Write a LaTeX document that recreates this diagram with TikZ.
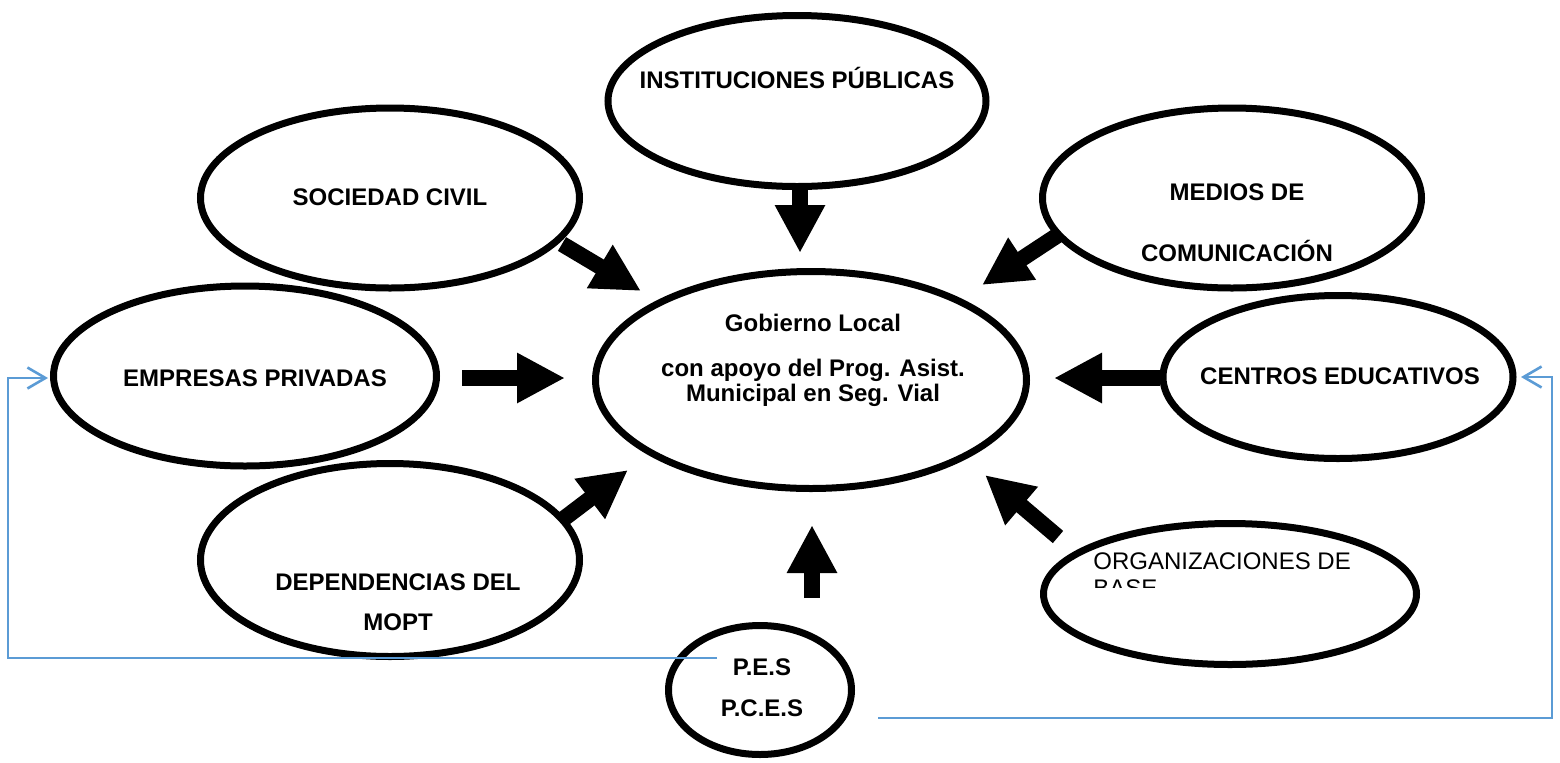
\documentclass[tikz,border=0pt]{standalone}
\usepackage{fontspec}
\setmainfont{Liberation Sans}
\usetikzlibrary{shapes.geometric,arrows.meta}
\definecolor{fbblue}{HTML}{5B9BD5}
\tikzset{
  ell/.style={ellipse, draw=black, line width=3.5pt, inner sep=0pt},
  lbl/.style={font=\fontsize{12}{14}\selectfont\bfseries, anchor=base, inner sep=0pt},
  lblr/.style={font=\fontsize{12}{14}\selectfont, anchor=base west, inner sep=0pt},
  blk/.style={line width=8pt, -{Triangle[length=24pt,width=23.5pt]}},
  fb/.style={draw=fbblue, line width=1.3pt, -{Straight Barb[length=9pt,width=10.5pt]}}
}
\begin{document}
\begin{tikzpicture}[x=0.5pt,y=-0.5pt]
\useasboundingbox (0,0) rectangle (1560,762);
% ellipses
\node[ell, minimum width=189pt, minimum height=85.5pt] (inst) at (797,101) {};
\node[ell, minimum width=189.5pt, minimum height=90pt] (soc) at (390,198) {};
\node[ell, minimum width=189.5pt, minimum height=90pt] (med) at (1232,198) {};
\node[ell, minimum width=191.5pt, minimum height=90pt] (emp) at (245,376) {};
\node[ell, minimum width=215.5pt, minimum height=108.5pt] (gob) at (811,380) {};
\node[ell, minimum width=175pt, minimum height=81.5pt] (cen) at (1338,377) {};
\node[ell, minimum width=189.5pt, minimum height=96.5pt] (dep) at (390,560) {};
\node[ell, minimum width=186.5pt, minimum height=70.5pt] (org) at (1230,594) {};
\node[ell, minimum width=91.5pt, minimum height=64.5pt] (pes) at (760,690) {};
% labels
\node[lbl] (tinst) at (797,88) {INSTITUCIONES PÚBLICAS};
\node[lbl] (tsoc) at (390,205) {SOCIEDAD CIVIL};
\node[lbl] (tmed1) at (1237,200) {MEDIOS DE};
\node[lbl] (tmed2) at (1237,261) {COMUNICACIÓN};
\node[lbl] (temp) at (255,386) {EMPRESAS PRIVADAS};
\node[lbl] (tgob1) at (813,331) {Gobierno Local};
\node[lbl] (tgob2) at (813,376) {con apoyo del Prog. Asist.};
\node[lbl] (tgob3) at (813,401) {Municipal en Seg. Vial};
\node[lbl] (tcen) at (1340,384) {CENTROS EDUCATIVOS};
\node[lbl] (tdep1) at (398,590) {DEPENDENCIAS DEL};
\node[lbl] (tdep2) at (398,630) {MOPT};
\node[lblr] (torg1) at (1093,569) {ORGANIZACIONES DE};
\begin{scope}
\clip (1050,560) rectangle (1400,587);
\node[lblr] (torg2) at (1093,596) {BASE};
\end{scope}
\node[lbl] (tpes1) at (762,675) {P.E.S};
\node[lbl] (tpes2) at (762,716) {P.C.E.S};
% arrow end points
\coordinate (socA) at (562,244); \coordinate (socB) at (641,291);
\coordinate (instA) at (800,190); \coordinate (instB) at (800,253);
\coordinate (medA) at (1058,235); \coordinate (medB) at (982,285);
\coordinate (empA) at (462,378); \coordinate (empB) at (565,378);
\coordinate (cenA) at (1160,378); \coordinate (cenB) at (1054,378);
\coordinate (depA) at (562,520); \coordinate (depB) at (628,470);
\coordinate (orgA) at (1058,537); \coordinate (orgB) at (985,475);
\coordinate (pesA) at (812,598); \coordinate (pesB) at (812,525);
\draw[blk] (socA) -- (socB);
\draw[blk] (instA) -- (instB);
\draw[blk] (medA) -- (medB);
\draw[blk] (empA) -- (empB);
\draw[blk] (cenA) -- (cenB);
\draw[blk] (depA) -- (depB);
\draw[blk] (orgA) -- (orgB);
\draw[blk] (pesA) -- (pesB);
% blue feedback connectors
\coordinate (fbL0) at (717,658);
\coordinate (fbL1) at (8,658);
\coordinate (fbL2) at (8,378);
\coordinate (fbL3) at (48,378);
\coordinate (fbR0) at (878,718);
\coordinate (fbR1) at (1552,718);
\coordinate (fbR2) at (1552,377);
\coordinate (fbR3) at (1521,377);
\draw[fb] (fbL0) -- (fbL1) -- (fbL2) -- (fbL3);
\draw[fb] (fbR0) -- (fbR1) -- (fbR2) -- (fbR3);
\end{tikzpicture}
\end{document}
